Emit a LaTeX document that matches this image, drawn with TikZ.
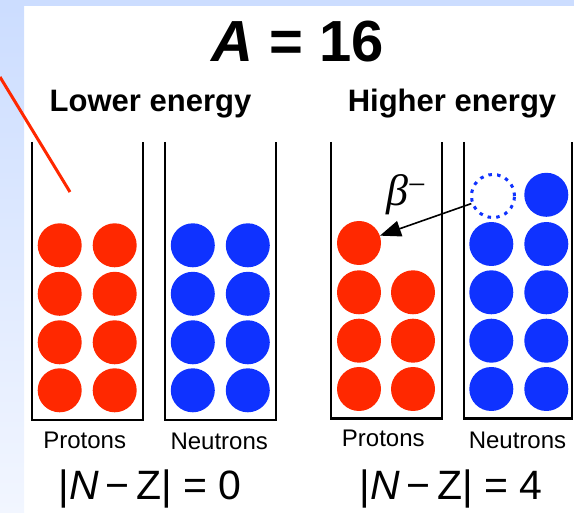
\documentclass[tikz,border=0pt]{standalone}
\usepackage{fontspec}
\setmainfont{Liberation Sans}
\newfontfamily\betafont{Liberation Serif}
\usetikzlibrary{arrows.meta}
\definecolor{bgblue}{RGB}{204,221,255}
\definecolor{bgpale}{RGB}{242,246,255}
\definecolor{pred}{RGB}{255,40,0}
\definecolor{nblue}{RGB}{15,50,255}
\begin{document}
\begin{tikzpicture}[x=1pt,y=-1pt,
  wall/.style={draw=black,line width=2.2pt,line join=miter},
  proton/.style={circle,fill=pred,minimum size=44pt,inner sep=0pt},
  neutron/.style={circle,fill=nblue,minimum size=44pt,inner sep=0pt},
  hole/.style={circle,draw=nblue,line width=3pt,dash pattern=on 3.5pt off 5.2pt,minimum size=43pt,inner sep=0pt},
  head/.style={font=\fontsize{31}{33}\selectfont\bfseries,anchor=base},
  lab/.style={font=\fontsize{24}{26}\selectfont,anchor=base},
  eq/.style={font=\fontsize{41}{44}\selectfont,anchor=base}]
\useasboundingbox (0,0) rectangle (574,513);
\fill[bgblue] (0,0) rectangle (574,6);
\shade[top color=bgblue,bottom color=bgpale] (0,6) rectangle (24,513);
% red pointer line
\coordinate (r1) at (0,77);
\coordinate (r2) at (70,192);
\draw[pred,line width=3pt] (r1) -- (r2);
% titles
\node[font=\fontsize{58}{60}\selectfont\bfseries,anchor=base] (title) at (298,61.7) {\textit{A} = 16};
\node[head] (lower) at (150.5,111.7) {Lower energy};
\node[head] (higher) at (452,111.7) {Higher energy};
% containers
\draw[wall] (31.7,142) -- (31.7,420) -- (142.7,420) -- (142.7,142);
\draw[wall] (165,142) -- (165,420) -- (275.7,420) -- (275.7,142);
\draw[wall] (331,142) -- (331,418.5) -- (441.7,418.5) -- (441.7,142);
\draw[wall] (464.3,142) -- (464.3,418.5) -- (572.3,418.5) -- (572.3,142);
% left protons and neutrons
\foreach \r/\y in {1/245.3,2/293.8,3/342.3,4/390.3}{
  \node[proton] (lpa\r) at (59.7,\y) {};
  \node[proton] (lpb\r) at (114.7,\y) {};
  \node[neutron] (lna\r) at (192.8,\y) {};
  \node[neutron] (lnb\r) at (247.8,\y) {};
}
% right protons
\node[proton] (rtop) at (359,243) {};
\foreach \r/\y in {2/292.3,3/340.7,4/389}{
  \node[proton] (rpa\r) at (359,\y) {};
  \node[proton] (rpb\r) at (413,\y) {};
}
% right neutrons
\node[hole] (hole) at (493,196) {};
\node[neutron] (rnb1) at (546.3,194.8) {};
\foreach \r/\y in {2/244,3/292.3,4/340.7,5/389}{
  \node[neutron] (rna\r) at (491.3,\y) {};
  \node[neutron] (rnb\r) at (546.3,\y) {};
}
% beta decay arrow
\draw[line width=1.6pt,-{Triangle[length=21pt,width=16pt]}] (hole) -- (rtop);
\node[anchor=base,inner sep=0pt] (beta) at (406,206) {\betafont\fontsize{44}{46}\selectfont\itshape β\raisebox{10pt}{\upshape\fontsize{32}{34}\selectfont −}};
% labels
\node[lab] (lprot) at (84.7,448.3) {Protons};
\node[lab] (lneut) at (219.2,450) {Neutrons};
\node[lab] (rprot) at (383.3,446.7) {Protons};
\node[lab] (rneut) at (517.5,449) {Neutrons};
\node[eq] (eq0) at (150,500) {|\textit{N}\,−\,Z| = 0};
\node[eq] (eq4) at (451,500) {|\textit{N}\,−\,Z| = 4};
\end{tikzpicture}
\end{document}
